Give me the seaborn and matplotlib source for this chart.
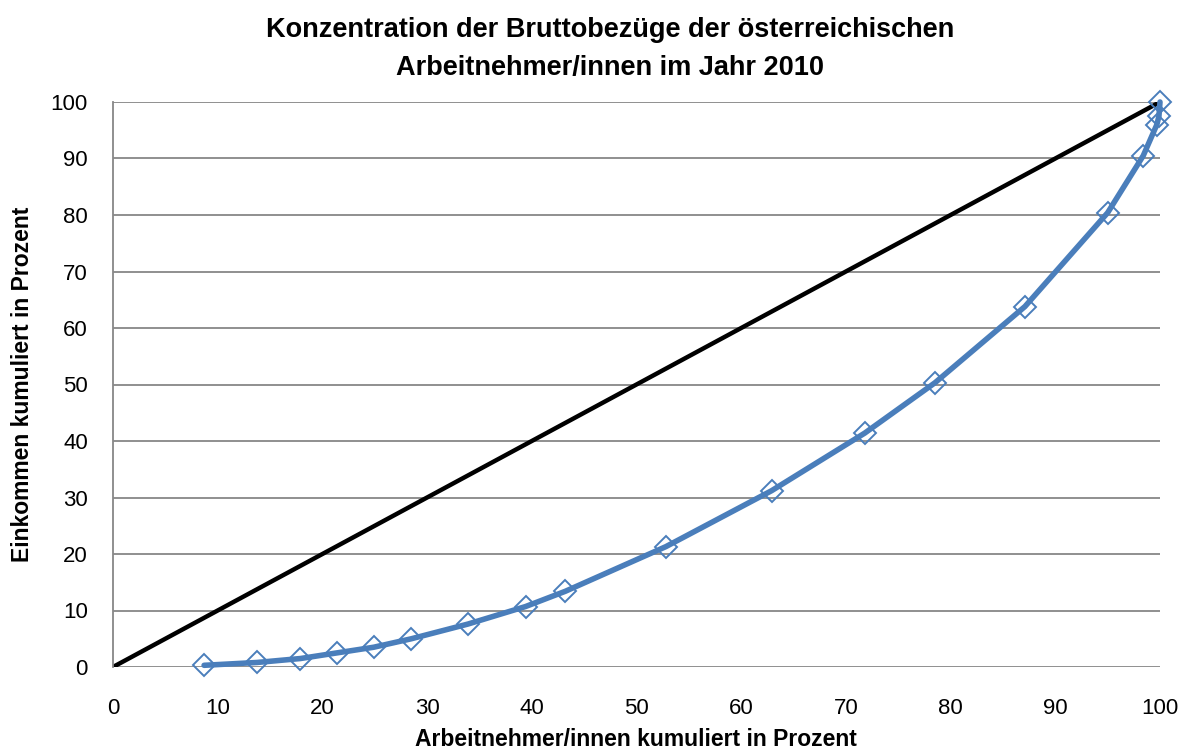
import numpy as np
import pandas as pd
import matplotlib
matplotlib.use('Agg')
import matplotlib.pyplot as plt
import seaborn as sns

# Lorenz curve points
arbeitnehmer = [8.7, 13.75, 17.9, 21.4, 24.9, 28.5, 33.9, 39.4, 43.2, 52.8,
                62.9, 71.8, 78.5, 87.1, 95.0, 98.4, 99.7, 99.9, 100.0]
einkommen = [0.3, 0.8, 1.5, 2.5, 3.5, 5.0, 7.6, 10.7, 13.4, 21.3,
             31.2, 41.4, 50.3, 63.8, 80.4, 90.5, 96.0, 97.5, 100.0]
# line of equal distribution
gleich_x = [0, 100]
gleich_y = [0, 100]
ticks = list(range(0, 101, 10))

lorenz = pd.DataFrame({'x': arbeitnehmer, 'y': einkommen})
gleich = pd.DataFrame({'x': gleich_x, 'y': gleich_y})

sns.set_style('white')
plt.rcParams['font.family'] = ['Liberation Sans', 'DejaVu Sans']
plt.rcParams['text.color'] = 'black'
plt.rcParams['axes.labelcolor'] = 'black'
plt.rcParams['xtick.color'] = 'black'
plt.rcParams['ytick.color'] = 'black'

fig = plt.figure(figsize=(11.84, 7.53), dpi=100)
ax = fig.add_axes([113 / 1184, 1 - 667 / 753, (1160 - 113) / 1184, (667 - 102) / 753])

# Gridlines
for t in ticks:
    ax.axhline(t, color='#878787', lw=1.3, zorder=0)

sns.lineplot(data=gleich, x='x', y='y', color='black', lw=3.2, ax=ax, zorder=2)
sns.lineplot(data=lorenz, x='x', y='y', color='#4a7ebb', lw=4, ax=ax, zorder=3,
             marker='D', markersize=11, markerfacecolor='none',
             markeredgecolor='#4a7ebb', markeredgewidth=1.4, clip_on=False)

ax.set_xlim(0, 100)
ax.set_ylim(0, 100)
ax.set_xticks(ticks)
ax.set_yticks(ticks)
ax.tick_params(axis='x', length=0, pad=22, labelsize=16)
ax.tick_params(axis='y', length=0, pad=18, labelsize=16)

for side in ['top', 'right', 'bottom']:
    ax.spines[side].set_visible(False)
ax.spines['left'].set_color('#878787')
ax.spines['left'].set_linewidth(1.3)
ax.patch.set_alpha(0)

ax.set_xlabel('')
ax.set_ylabel('Einkommen kumuliert in Prozent', fontsize=16.5, fontweight='bold', labelpad=12)
fig.text(636 / 1184, 1 - 740 / 753, 'Arbeitnehmer/innen kumuliert in Prozent',
         ha='center', va='center', fontsize=16.5, fontweight='bold')
fig.text(610 / 1184, 0.978, 'Konzentration der Bruttobezüge der österreichischen\nArbeitnehmer/innen im Jahr 2010',
         ha='center', va='top', fontsize=19.5, fontweight='bold', linespacing=1.6)

fig.savefig('out.png', dpi=100)
